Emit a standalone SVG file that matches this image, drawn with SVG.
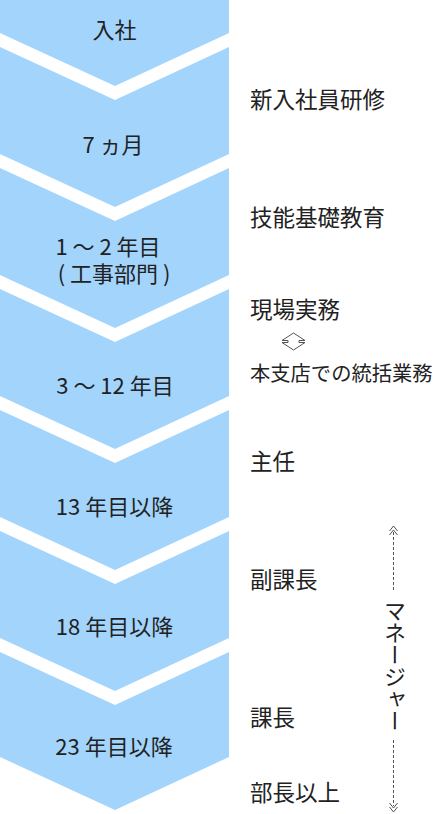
<svg xmlns="http://www.w3.org/2000/svg" width="436" height="814" viewBox="0 0 436 814">
<style>
.blk{fill:#a3d4fc;}
text{font-family:"Noto Sans CJK JP","Noto Sans",sans-serif;font-size:22px;fill:#222;}
.r{font-size:22.5px;}
.s{font-size:21px;}
.c{text-anchor:middle;}
.ln{stroke:#555;stroke-width:1;fill:none;}
</style>
<rect width="436" height="814" fill="#fff"/>
<g id="stage1"><polygon class="blk" points="0,0 229,0 229,33 115,86 0,33"/><text class="c" x="114.5" y="38">入社</text></g>
<g id="stage2"><polygon class="blk" points="0,47 115,100 229,47 229,154 115,207 0,154"/><text class="c" x="113" y="153">7 ヵ月</text></g>
<g id="stage3"><polygon class="blk" points="0,168 115,221 229,168 229,275 115,328 0,275"/><text class="c" x="108" y="255">1 ～ 2 年目</text><text class="c" x="114" y="282">( 工事部門 )</text></g>
<g id="stage4"><polygon class="blk" points="0,289 115,342 229,289 229,396 115,449 0,396"/><text class="c" x="115" y="394">3 ～ 12 年目</text></g>
<g id="stage5"><polygon class="blk" points="0,410 115,463 229,410 229,517 115,570 0,517"/><text class="c" x="114.5" y="515">13 年目以降</text></g>
<g id="stage6"><polygon class="blk" points="0,531 115,584 229,531 229,638 115,691 0,638"/><text class="c" x="114.5" y="635">18 年目以降</text></g>
<g id="stage7"><polygon class="blk" points="0,652 115,705 229,652 229,757 115,810 0,757"/><text class="c" x="114" y="755">23 年目以降</text></g>
<g id="labels">
<text class="r" x="250" y="108">新入社員研修</text>
<text class="r" x="250" y="226">技能基礎教育</text>
<text class="r" x="250" y="318">現場実務</text>
<text x="250" y="381" style="font-size:20.3px">本支店での統括業務</text>
<text class="r" x="250" y="470">主任</text>
<text class="r" x="250" y="588">副課長</text>
<text class="r" x="250" y="726">課長</text>
<text class="r" x="250" y="801">部長以上</text>
</g>
<g id="swap"><polygon class="ln" fill="#fff" points="293.5,333 305,340.5 299,340.5 299,342.5 305,342.5 293.5,350 282,342.5 288,342.5 288,340.5 282,340.5"/></g>
<g id="connectors">
<polyline class="ln" points="389.5,531 393.5,526 397.5,531"/>
<polyline class="ln" points="389.5,535 393.5,530 397.5,535"/>
<line class="ln" x1="393.5" y1="532" x2="393.5" y2="590" stroke-dasharray="3,2"/>
<line class="ln" x1="393.5" y1="740" x2="393.5" y2="806" stroke-dasharray="3,2"/>
<polyline class="ln" points="389.5,803 393.5,808 397.5,803"/>
<polyline class="ln" points="389.5,807 393.5,812 397.5,807"/>
</g>
<g id="manager"><text x="395" y="600" style="writing-mode:vertical-rl;">マネージャー</text></g>
</svg>
